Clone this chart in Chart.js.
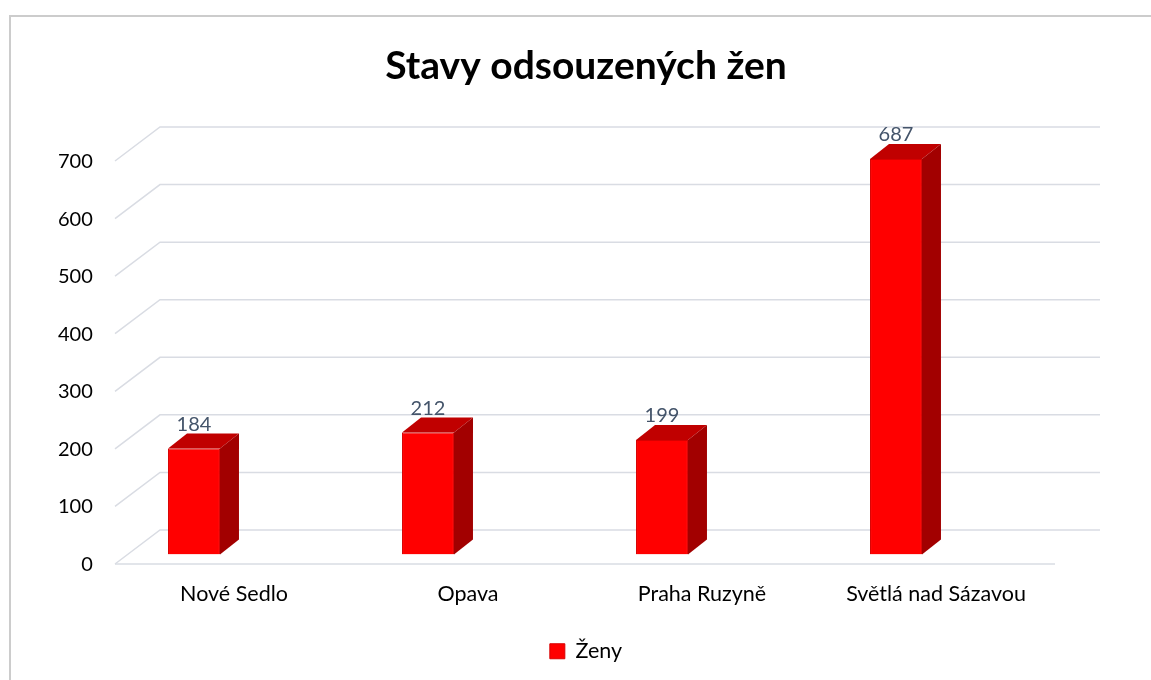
<!DOCTYPE html>
<html>
<head>
<meta charset="utf-8">
<script src="https://cdn.jsdelivr.net/npm/chart.js@4.4.1/dist/chart.umd.min.js"></script>
<style>
  html, body { margin: 0; padding: 0; background: #ffffff; overflow: hidden; }
  #wrap { position: relative; width: 1151px; height: 680px; }
  #frame { position: absolute; left: 9px; top: 15px; width: 1200px; height: 720px; border: 2px solid #cccccc; box-sizing: border-box; }
  #c { position: absolute; left: 0; top: 0; }
</style>
</head>
<body>
<div id="wrap">
  <div id="frame"></div>
  <canvas id="c" width="1151" height="680"></canvas>
</div>
<script>
const titleText = 'Stavy odsouzených žen';
const categories = ['Nové Sedlo', 'Opava', 'Praha Ruzyně', 'Světlá nad Sázavou'];
const seriesName = 'Ženy';
const zenyValues = [184, 212, 199, 687];
const yTickValues = [0, 100, 200, 300, 400, 500, 600, 700];

const FONT = 'Lato, "Open Sans", sans-serif';

// 3D geometry (style)
const GEO = {
  frontDy: 9.5,     // front plane below bar front plane
  backDy: -24.5,    // back wall above bar front plane
  frontLeftOffset: 38,  // from chart area left
  depthDx: 45,
  backRightOffset: 87,  // back wall right end from chart area right
  barDx: 19,
  barDy: -15,
  gridColor: '#d9dce3',
  topColor: '#c00000',
  sideColor: '#a20000',
  labelColor: '#44546a'
};

const grid3d = {
  id: 'grid3d',
  beforeDatasetsDraw(chart) {
    const ctx = chart.ctx;
    const y = chart.scales.y;
    const ca = chart.chartArea;
    const fx = ca.left + GEO.frontLeftOffset;
    const bx = fx + GEO.depthDx;
    const bxr = ca.right + GEO.backRightOffset;
    ctx.save();
    ctx.strokeStyle = GEO.gridColor;
    ctx.lineWidth = 1.5;
    y.ticks.forEach(t => {
      const py = y.getPixelForValue(t.value);
      ctx.beginPath();
      ctx.moveTo(fx, py + GEO.frontDy);
      ctx.lineTo(bx, py + GEO.backDy);
      ctx.lineTo(bxr, py + GEO.backDy);
      ctx.stroke();
      if (t.value === 0) {
        ctx.beginPath();
        ctx.moveTo(fx, py + GEO.frontDy);
        ctx.lineTo(bxr - GEO.depthDx, py + GEO.frontDy);
        ctx.stroke();
      }
    });
    ctx.restore();
  },
  afterDatasetsDraw(chart) {
    const ctx = chart.ctx;
    const meta = chart.getDatasetMeta(0);
    const data = chart.data.datasets[0].data;
    ctx.save();
    meta.data.forEach((bar, i) => {
      const p = bar.getProps(['x', 'y', 'base', 'width'], true);
      const L = p.x - p.width / 2, R = p.x + p.width / 2, T = p.y, B = p.base;
      // top face
      ctx.fillStyle = GEO.topColor;
      ctx.beginPath();
      ctx.moveTo(L, T);
      ctx.lineTo(L + GEO.barDx, T + GEO.barDy);
      ctx.lineTo(R + GEO.barDx, T + GEO.barDy);
      ctx.lineTo(R, T);
      ctx.closePath();
      ctx.fill();
      // side face
      ctx.fillStyle = GEO.sideColor;
      ctx.beginPath();
      ctx.moveTo(R, T);
      ctx.lineTo(R + GEO.barDx, T + GEO.barDy);
      ctx.lineTo(R + GEO.barDx, B + GEO.barDy);
      ctx.lineTo(R, B);
      ctx.closePath();
      ctx.fill();
      // value label
      ctx.fillStyle = GEO.labelColor;
      ctx.font = '20px ' + FONT;
      ctx.textAlign = 'center';
      ctx.textBaseline = 'middle';
      ctx.fillText(String(data[i]), p.x, T - 24);
    });
    ctx.restore();
  }
};

new Chart(document.getElementById('c'), {
  type: 'bar',
  data: {
    labels: categories,
    datasets: [{
      label: seriesName,
      data: zenyValues,
      backgroundColor: '#ff0000',
      borderColor: '#d80000',
      borderWidth: 1,
      barPercentage: 0.222,
      categoryPercentage: 1
    }]
  },
  options: {
    responsive: false,
    animation: false,
    layout: { padding: { left: 21, right: 0, top: 0, bottom: 8 } },
    plugins: {
      title: {
        display: true,
        text: titleText,
        color: '#000000',
        font: { family: FONT, size: 39, weight: 'bold' },
        padding: { top: 42.6, bottom: 62.1 }
      },
      legend: {
        display: true,
        position: 'bottom',
        labels: {
          color: '#000000',
          font: { family: FONT, size: 21.5 },
          boxWidth: 15,
          boxHeight: 15,
          padding: 7
        }
      },
      tooltip: { enabled: false }
    },
    scales: {
      x: {
        type: 'category',
        offset: true,
        grid: { display: false, drawTicks: false },
        border: { display: false },
        ticks: {
          color: '#000000',
          font: { family: FONT, size: 21.5 },
          padding: 26.6,
          labelOffset: 40,
          maxRotation: 0,
          autoSkip: false
        }
      },
      y: {
        type: 'linear',
        position: 'left',
        min: 0,
        max: 700,
        grid: { display: false, drawTicks: false },
        border: { display: false },
        afterBuildTicks: s => { s.ticks = yTickValues.map(v => ({ value: v })); },
        afterFit: s => { s.width = 56; },
        ticks: {
          color: '#000000',
          font: { family: FONT, size: 20 },
          mirror: true,
          crossAlign: 'far',
          padding: -19,
          labelOffset: 10
        }
      },
      y2: {
        type: 'linear',
        position: 'right',
        display: true,
        grid: { display: false, drawTicks: false },
        border: { display: false },
        ticks: { display: false },
        afterFit: s => { s.width = 138; }
      }
    }
  },
  plugins: [grid3d]
});
</script>
</body>
</html>
